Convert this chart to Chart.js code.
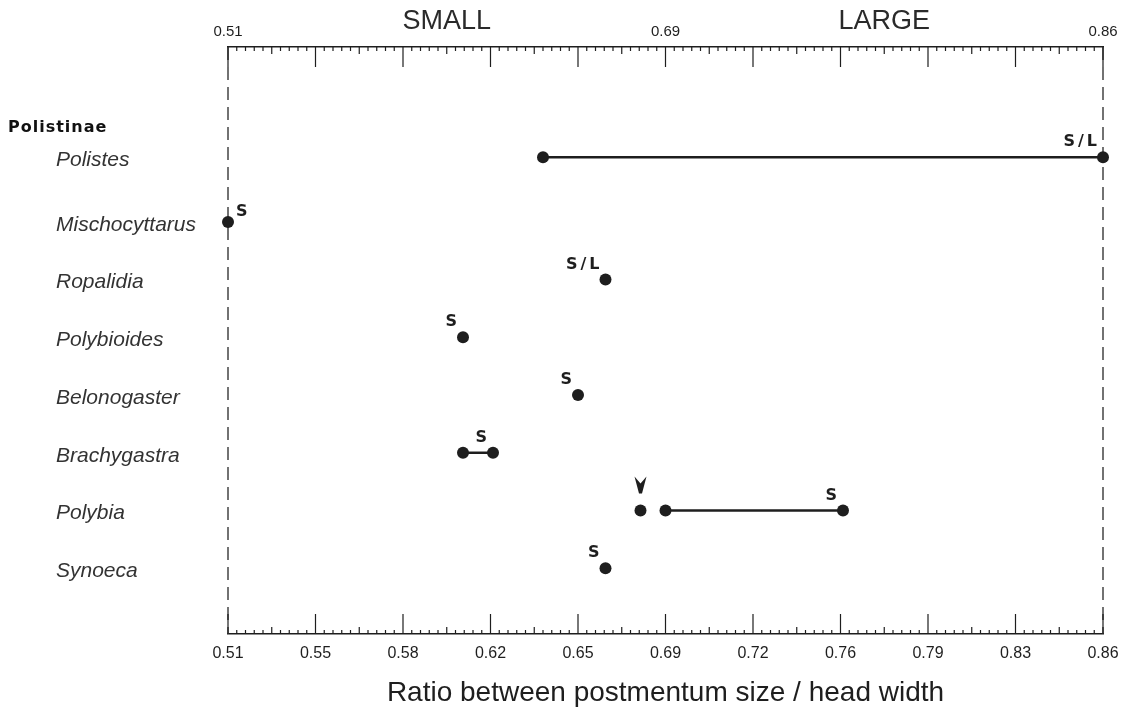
<!DOCTYPE html>
<html>
<head>
<meta charset="utf-8">
<title>Postmentum ratio</title>
<script src="https://cdn.jsdelivr.net/npm/chart.js@4.4.1/dist/chart.umd.min.js"></script>
<style>
    html, body { margin: 0; padding: 0; background: #fff; }
    #wrap { width: 1129px; height: 710px; }
</style>
</head>
<body>
<div id="wrap"><canvas id="ratioChart" width="1129" height="710"></canvas></div>
<script>
// ============================================
// DATA
// ============================================
const groupLabel = 'Polistinae';
const groupRow = 0.35;
const taxa = ['Polistes', 'Mischocyttarus', 'Ropalidia', 'Polybioides', 'Belonogaster', 'Brachygastra', 'Polybia', 'Synoeca'];
const rowPos = [0.88, 2, 3, 4, 5, 6, 7, 8];
const rangeMin = [0.636, 0.510, 0.661, 0.604, 0.650, 0.604, 0.685, 0.661];
const rangeMax = [0.860, 0.510, 0.661, 0.604, 0.650, 0.616, 0.756, 0.661];
const casteLabels = ['S/L', 'S', 'S/L', 'S', 'S', 'S', 'S', 'S'];
const casteSide = ['left', 'right', 'left', 'left', 'left', 'left', 'left', 'left'];

// extra Polybia value marked with an arrowhead
const arrowTaxon = 'Polybia';
const arrowValue = 0.675;

const bottomTickValues = [0.51, 0.545, 0.58, 0.615, 0.65, 0.685, 0.72, 0.755, 0.79, 0.825, 0.86];
const bottomTickLabels = ['0.51', '0.55', '0.58', '0.62', '0.65', '0.69', '0.72', '0.76', '0.79', '0.83', '0.86'];
const topTickValues = [0.51, 0.685, 0.86];
const topTickLabels = ['0.51', '0.69', '0.86'];
const sizeClasses = ['SMALL', 'LARGE'];
const sizeBounds = [[0.51, 0.685], [0.685, 0.86]];
const xTitle = 'Ratio between postmentum size / head width';

// ============================================
// STYLE
// ============================================
const INK = '#1e1e1e';
const FONT = "'Liberation Sans', Arial, sans-serif";
const BOLD_FONT = "'DejaVu Sans', Verdana, sans-serif";
Chart.defaults.font.family = FONT;

// ============================================
// PLUGINS
// ============================================
const framePlugin = {
    id: 'frame',
    beforeDatasetsDraw(chart) {
        const { ctx, chartArea } = chart;
        const x = chart.scales.x;
        const { top, bottom, left, right } = chartArea;
        ctx.save();

        // dashed side lines
        ctx.strokeStyle = '#444';
        ctx.lineWidth = 1.5;
        ctx.setLineDash([13, 7]);
        [left, right].forEach(px => {
            ctx.beginPath();
            ctx.moveTo(px, top);
            ctx.lineTo(px, bottom);
            ctx.stroke();
        });
        ctx.setLineDash([]);

        // major + minor ticks pointing inward on both axes
        ctx.strokeStyle = INK;
        ctx.lineWidth = 1.2;
        for (let i = 0; i < bottomTickValues.length; i++) {
            const px = x.getPixelForValue(bottomTickValues[i]);
            ctx.beginPath();
            ctx.moveTo(px, top); ctx.lineTo(px, top + 20);
            ctx.moveTo(px, bottom); ctx.lineTo(px, bottom - 20);
            ctx.stroke();
            if (i === bottomTickValues.length - 1) break;
            const step = (bottomTickValues[i + 1] - bottomTickValues[i]) / 10;
            for (let k = 1; k < 10; k++) {
                const mx = x.getPixelForValue(bottomTickValues[i] + k * step);
                const len = k === 5 ? 7 : 4;
                ctx.beginPath();
                ctx.moveTo(mx, top); ctx.lineTo(mx, top + len);
                ctx.moveTo(mx, bottom); ctx.lineTo(mx, bottom - len);
                ctx.stroke();
            }
        }
        ctx.restore();
    },
    afterDraw(chart) {
        const { ctx } = chart;
        const x = chart.scales.x;
        const y = chart.scales.y;
        ctx.save();

        // SMALL / LARGE headings
        ctx.fillStyle = '#2a2a2a';
        ctx.font = '27px ' + FONT;
        ctx.textAlign = 'center';
        ctx.textBaseline = 'middle';
        sizeClasses.forEach((label, i) => {
            const cx = (x.getPixelForValue(sizeBounds[i][0]) + x.getPixelForValue(sizeBounds[i][1])) / 2;
            ctx.fillText(label, cx, 22);
        });

        // row labels
        ctx.textAlign = 'left';
        ctx.fillStyle = '#111';
        ctx.font = 'bold 16px ' + BOLD_FONT;
        ctx.letterSpacing = '1px';
        ctx.fillText(groupLabel, 8, y.getPixelForValue(groupRow) + 1);
        ctx.letterSpacing = '0px';
        ctx.fillStyle = '#333';
        ctx.font = 'italic 21px ' + FONT;
        taxa.forEach((name, i) => {
            ctx.fillText(name, 56, y.getPixelForValue(rowPos[i]) + 3);
        });

        // caste labels
        ctx.fillStyle = INK;
        ctx.font = 'bold 16px ' + BOLD_FONT;
        ctx.letterSpacing = '3px';
        taxa.forEach((name, i) => {
            const py = y.getPixelForValue(rowPos[i]) - 15;
            if (casteSide[i] === 'right') {
                ctx.textAlign = 'left';
                ctx.fillText(casteLabels[i], x.getPixelForValue(rangeMax[i]) + 8, py + 5);
            } else {
                ctx.textAlign = 'right';
                ctx.fillText(casteLabels[i], x.getPixelForValue(rangeMax[i]) - 3, py);
            }
        });
        ctx.letterSpacing = '0px';

        // arrowhead over the extra Polybia value
        const ax = x.getPixelForValue(arrowValue);
        const ay = y.getPixelForValue(rowPos[taxa.indexOf(arrowTaxon)]);
        ctx.beginPath();
        ctx.moveTo(ax - 6, ay - 34);
        ctx.lineTo(ax, ay - 27);
        ctx.lineTo(ax + 6, ay - 34);
        ctx.lineTo(ax + 1.5, ay - 17);
        ctx.lineTo(ax - 1.5, ay - 17);
        ctx.closePath();
        ctx.fill();
        ctx.restore();
    }
};

// ============================================
// CHART
// ============================================
const datasets = taxa.map((name, i) => ({
    label: name,
    data: rangeMin[i] === rangeMax[i]
        ? [{ x: rangeMin[i], y: rowPos[i] }]
        : [{ x: rangeMin[i], y: rowPos[i] }, { x: rangeMax[i], y: rowPos[i] }],
    showLine: true,
    borderColor: INK,
    borderWidth: 2.5,
    pointRadius: 6,
    pointBackgroundColor: INK,
    pointBorderColor: INK,
    pointBorderWidth: 0,
    clip: false
}));
datasets.push({
    label: arrowTaxon + ' (marked)',
    data: [{ x: arrowValue, y: rowPos[taxa.indexOf(arrowTaxon)] }],
    showLine: false,
    pointRadius: 6,
    pointBackgroundColor: INK,
    pointBorderWidth: 0,
    clip: false
});

const axisTicks = (labels, size, padding) => ({
    autoSkip: false,
    maxRotation: 0,
    padding: padding,
    color: INK,
    font: { size: size },
    callback: (value, index) => labels[index]
});

new Chart(document.getElementById('ratioChart'), {
    type: 'scatter',
    data: { datasets },
    plugins: [framePlugin],
    options: {
        responsive: false,
        animation: false,
        layout: { padding: { left: 228, right: 26, top: 0, bottom: 0 } },
        plugins: {
            legend: { display: false },
            tooltip: { enabled: false }
        },
        scales: {
            x: {
                type: 'linear',
                position: 'bottom',
                min: 0.51,
                max: 0.86,
                grid: { display: false, drawTicks: false },
                border: { display: true, color: INK, width: 1.5 },
                afterBuildTicks: s => { s.ticks = bottomTickValues.map(v => ({ value: v })); },
                ticks: axisTicks(bottomTickLabels, 16, 10),
                title: {
                    display: true,
                    text: xTitle,
                    color: INK,
                    font: { size: 28 },
                    padding: { top: 0, bottom: 0 }
                },
                afterFit: s => { s.height = 76; }
            },
            x2: {
                type: 'linear',
                position: 'top',
                min: 0.51,
                max: 0.86,
                grid: { display: false, drawTicks: false },
                border: { display: true, color: INK, width: 1.5 },
                afterBuildTicks: s => { s.ticks = topTickValues.map(v => ({ value: v })); },
                ticks: axisTicks(topTickLabels, 15, 6),
                afterFit: s => { s.height = 47; }
            },
            y: {
                type: 'linear',
                display: false,
                reverse: true,
                min: -1.03,
                max: 9.14
            }
        }
    }
});
</script>
</body>
</html>
